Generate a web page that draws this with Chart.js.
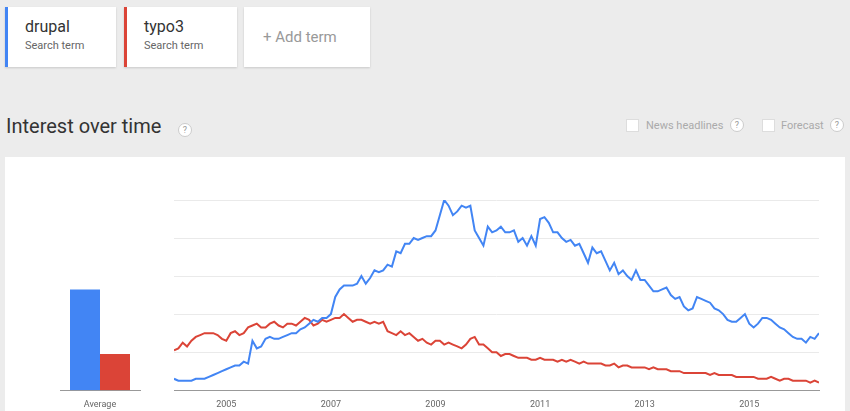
<!DOCTYPE html>
<html>
<head>
<meta charset="utf-8">
<script src="https://cdn.jsdelivr.net/npm/chart.js@4"></script>
<style>
    body { margin: 0; width: 850px; height: 411px; background: #ececec; font-family: Roboto, Arial, sans-serif; position: relative; overflow: hidden; }
    .card { position: absolute; top: 7px; height: 60px; background: #fff; box-shadow: 0 1px 2px rgba(0,0,0,0.15); }
    .card .name { position: absolute; left: 17px; top: 10px; font-size: 16px; color: #333; }
    .card .sub { position: absolute; left: 17px; top: 32px; font-size: 11px; color: #666; }
    .title { position: absolute; left: 6px; top: 114px; font-size: 20px; color: #333; }
    .help { position: absolute; width: 12px; height: 12px; border: 1px solid #ccc; border-radius: 50%; background: #fff; font-size: 9px; color: #999; text-align: center; line-height: 12px; }
    .check { position: absolute; width: 11px; height: 11px; background: #fff; border: 1px solid #ddd; }
    .opt { position: absolute; font-size: 11px; color: #aaa; }
    .panel { position: absolute; left: 5px; top: 157px; width: 840px; height: 260px; background: #fff; }
    canvas { position: absolute; }
</style>
</head>
<body>
<div class="card" style="left:5px;width:108px;border-left:3px solid #4285f4"><div class="name">drupal</div><div class="sub">Search term</div></div>
<div class="card" style="left:124px;width:110px;border-left:3px solid #db4437"><div class="name">typo3</div><div class="sub">Search term</div></div>
<div class="card" style="left:244px;width:126px"><div style="position:absolute;left:19px;top:21px;font-size:15px;color:#999">+ Add term</div></div>
<div class="title">Interest over time</div>
<div class="help" style="left:178px;top:123px">?</div>
<div class="check" style="left:626px;top:119px"></div>
<div class="opt" style="left:646px;top:119px">News headlines</div>
<div class="help" style="left:730px;top:118px">?</div>
<div class="check" style="left:762px;top:119px"></div>
<div class="opt" style="left:781px;top:119px">Forecast</div>
<div class="help" style="left:830px;top:118px">?</div>
<div class="panel"></div>
<canvas id="avgChart" style="left:40px;top:193px;width:120px;height:218px"></canvas>
<canvas id="lineChart" style="left:170px;top:193px;width:660px;height:218px"></canvas>
<script>
const terms = ['drupal', 'typo3'];
const colors = ['#4285f4', '#db4437'];
const averages = [53, 19];
const yearTicks = [2005, 2007, 2009, 2011, 2013, 2015];

const drupal = [
    6,5,5,5,5,6,6,6,7,8,9,10,
    11,12,13,13,15,14,26,22,23,27,28,27,
    27,28,29,30,30,32,33,35,37,36,38,38,
    40,49,53,55,55,55,56,60,56,59,63,62,
    63,66,65,73,72,77,77,80,79,80,81,81,
    84,92,100,97,92,94,97,96,97,84,80,76,
    86,83,84,86,83,83,84,78,80,76,81,76,
    90,91,88,83,83,80,78,79,76,77,72,67,
    75,72,73,68,63,67,61,63,60,58,63,58,
    58,55,52,52,53,54,50,48,49,44,42,43,
    49,48,47,46,43,42,40,37,36,36,38,40,
    35,33,35,38,38,37,35,33,32,30,28,27,
    27,25,28,27,30
];
const typo3 = [
    21,22,25,23,26,28,29,30,30,30,29,27,
    26,30,31,29,30,33,34,35,33,33,35,36,
    34,33,35,35,34,36,38,37,34,35,37,36,
    37,38,38,40,38,36,37,37,36,35,36,35,
    36,31,30,29,31,29,30,28,26,27,25,24,
    26,26,24,25,24,23,22,24,27,28,24,24,
    22,20,20,18,19,19,18,17,17,17,16,16,
    17,16,16,16,15,16,15,16,15,14,15,14,
    14,14,14,13,13,14,12,13,13,12,12,12,
    12,11,12,11,11,11,10,10,10,9,9,9,
    9,9,9,8,9,8,8,8,8,7,7,7,
    7,7,6,6,6,7,6,5,6,6,5,5,
    5,5,4,5,4
];

function toPoints(values) {
    return values.map((v, i) => ({ x: 2004 + i / 12, y: v }));
}

const tickFont = { family: 'Roboto, Arial, sans-serif', size: 9 };

new Chart(document.getElementById('avgChart'), {
    type: 'bar',
    data: {
        labels: ['Average'],
        datasets: terms.map((t, i) => ({ label: t, data: [averages[i]], backgroundColor: colors[i], barPercentage: 1, categoryPercentage: 0.75 }))
    },
    options: {
        responsive: false, animation: false,
        layout: { padding: { left: 20, right: 20, top: 7 } },
        plugins: { legend: { display: false }, tooltip: { enabled: false } },
        scales: {
            x: { grid: { display: false }, border: { color: '#999' }, ticks: { color: '#666', font: tickFont, padding: 1 } },
            y: { min: 0, max: 100, display: false }
        }
    }
});

new Chart(document.getElementById('lineChart'), {
    type: 'line',
    data: {
        datasets: [
            { label: terms[0], data: toPoints(drupal), borderColor: colors[0], borderWidth: 2, pointRadius: 0, tension: 0 },
            { label: terms[1], data: toPoints(typo3), borderColor: colors[1], borderWidth: 2, pointRadius: 0, tension: 0 }
        ]
    },
    options: {
        responsive: false, animation: false,
        layout: { padding: { left: 4, right: 11, top: 7 } },
        plugins: { legend: { display: false }, tooltip: { enabled: false } },
        scales: {
            x: {
                type: 'linear', min: 2004, max: 2004 + (drupal.length - 1) / 12,
                afterBuildTicks: axis => { axis.ticks = yearTicks.map(v => ({ value: v })); },
                grid: { display: false }, border: { color: '#999' },
                ticks: { color: '#666', font: tickFont, maxRotation: 0, padding: 1, callback: v => String(v) }
            },
            y: {
                min: 0, max: 100,
                afterBuildTicks: axis => { axis.ticks = [0, 20, 40, 60, 80, 100].map(v => ({ value: v })); },
                grid: { color: '#eaeaea', drawTicks: false }, border: { display: false },
                ticks: { display: false }
            }
        }
    }
});
</script>
</body>
</html>
